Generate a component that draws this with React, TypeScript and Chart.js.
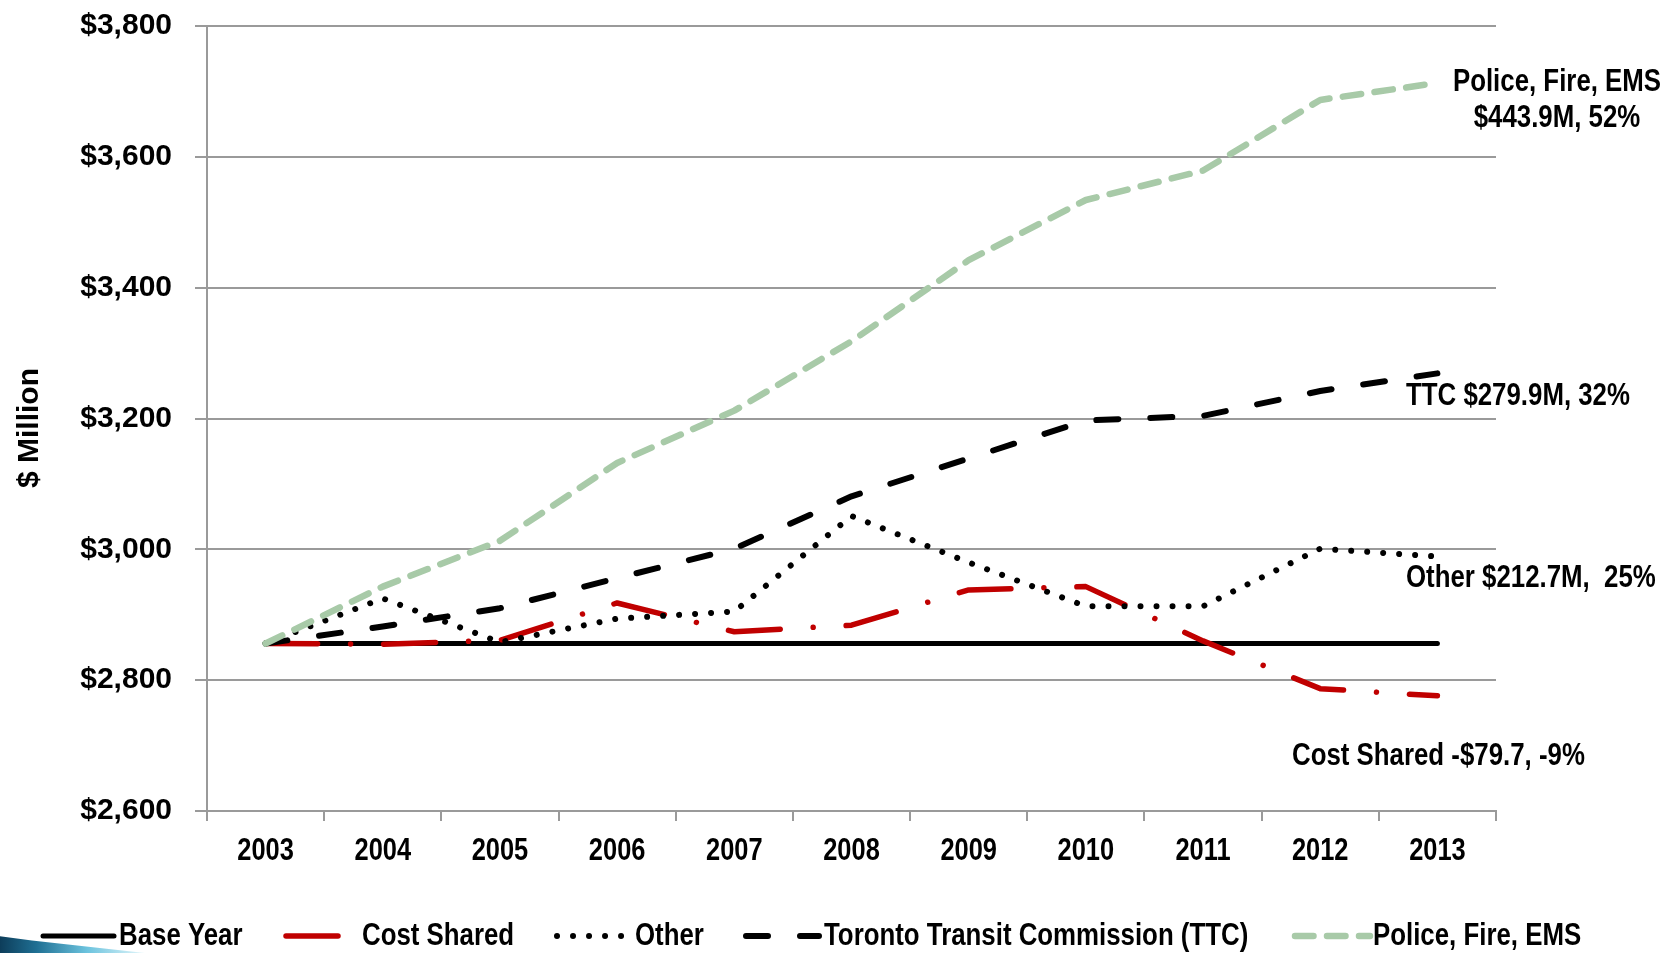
import React, { useEffect, useRef } from "react";
import { Chart, registerables } from "chart.js";

Chart.register(...registerables);

// ---- data -----------------------------------------------------------------
const years = ["2003", "2004", "2005", "2006", "2007", "2008", "2009", "2010", "2011", "2012", "2013"];

const baseYear = [2856, 2856, 2856, 2856, 2856, 2856, 2856, 2856, 2856, 2856, 2856];
const costShared = [2856, 2855, 2861, 2918, 2874, 2884, 2938, 2943, 2860, 2787, 2776];
const other = [2856, 2925, 2858, 2894, 2905, 3051, 2980, 2913, 2913, 3001, 2989];
const ttc = [2856, 2882, 2910, 2956, 3001, 3081, 3139, 3197, 3204, 3242, 3269];
const policeFireEms = [2856, 2943, 3013, 3132, 3212, 3318, 3442, 3534, 3579, 3687, 3713];

const seriesNames = ["Base Year", "Cost Shared", "Other", "Toronto Transit Commission (TTC)", "Police, Fire, EMS"];

const yMin = 2600;
const yMax = 3800;
const yStep = 200;

const axisTitle = "$ Million";

const policeNote = ["Police, Fire, EMS", "$443.9M, 52%"];
const ttcNote = "TTC $279.9M, 32%";
const otherNote = "Other $212.7M,  25%";
const costSharedNote = "Cost Shared -$79.7, -9%";

// ---- styling --------------------------------------------------------------
const SANS = "'Liberation Sans', Arial, sans-serif";
const NARROW_SCALE = 0.82; // horizontal squeeze giving a narrow bold face
const TEXT_SIZE = 31.5;
const GRID = "#9a9a9a";
const RED = "#C00000";
const GREEN = "#A8CAA8";

// legend sample geometry: [lineStart, lineEnd, textX]
const legendSlots: [number, number, number][] = [
  [43, 114, 119],
  [286, 344, 362],
  [557, 631, 635],
  [746, 819, 824],
  [1295, 1370, 1373],
];
const LEGEND_Y = 936;

function narrowText(ctx: CanvasRenderingContext2D, text: string, x: number, y: number, align: CanvasTextAlign, size = TEXT_SIZE) {
  ctx.save();
  ctx.font = `bold ${size}px ${SANS}`;
  ctx.textAlign = align;
  ctx.textBaseline = "middle";
  ctx.fillStyle = "#000";
  ctx.translate(x, y);
  ctx.scale(NARROW_SCALE, 1);
  ctx.fillText(text, 0, 0);
  ctx.restore();
}

const notesPlugin = {
  id: "seriesNotes",
  afterDraw(chart: any) {
    const { ctx } = chart;
    const xs = chart.scales.x;

    // category labels, placed by the category scale
    const labelY = xs.top + 40;
    xs.ticks.forEach((_t: any, i: number) => {
      narrowText(ctx, String(chart.data.labels[i]), xs.getPixelForTick(i), labelY, "center", 31);
    });

    // end-of-series notes
    narrowText(ctx, policeNote[0], 1557, 82, "center");
    narrowText(ctx, policeNote[1], 1557, 118, "center");
    narrowText(ctx, ttcNote, 1406, 396, "left");
    narrowText(ctx, otherNote, 1406, 578, "left");
    narrowText(ctx, costSharedNote, 1292, 756, "left");

    // vertical axis title
    ctx.save();
    ctx.fillStyle = "#000";
    ctx.textBaseline = "middle";
    ctx.translate(30, 428);
    ctx.rotate(-Math.PI / 2);
    ctx.font = `bold 30px ${SANS}`;
    ctx.textAlign = "center";
    ctx.fillText(axisTitle, 0, 0);
    ctx.restore();

    // legend row built from the datasets
    chart.data.datasets.forEach((ds: any, i: number) => {
      const [x0, x1, tx] = legendSlots[i];
      ctx.save();
      ctx.strokeStyle = ds.borderColor;
      ctx.lineWidth = ds.borderWidth;
      ctx.lineCap = "round";
      ctx.setLineDash(ds.borderDash || []);
      ctx.beginPath();
      ctx.moveTo(x0, LEGEND_Y);
      ctx.lineTo(x1, LEGEND_Y);
      ctx.stroke();
      ctx.restore();
      narrowText(ctx, ds.label, tx, LEGEND_Y, "left");
    });
  },
};

export default function App() {
  const canvasRef = useRef<HTMLCanvasElement | null>(null);

  useEffect(() => {
    document.body.style.margin = "0";
    const canvas = canvasRef.current;
    if (!canvas) return;

    const line = (label: string, data: number[], color: string, width: number, dash: number[], order: number) => ({
      label,
      data,
      borderColor: color,
      backgroundColor: color,
      borderWidth: width,
      borderDash: dash,
      borderCapStyle: "round",
      borderJoinStyle: "round",
      pointRadius: 0,
      pointHoverRadius: 0,
      tension: 0,
      fill: false,
      order,
    });

    const chart = new Chart(canvas, {
      type: "line",
      data: {
        labels: years,
        datasets: [
          line(seriesNames[0], baseYear, "#000000", 5, [], 5),
          line(seriesNames[1], costShared, RED, 5.5, [52, 33, 0.01, 33], 4),
          line(seriesNames[2], other, "#000000", 6, [0.01, 16], 3),
          line(seriesNames[3], ttc, "#000000", 6, [22, 32], 2),
          line(seriesNames[4], policeFireEms, GREEN, 6.5, [18.5, 13.5], 1),
        ] as any,
      },
      options: {
        animation: false,
        responsive: false,
        devicePixelRatio: 1,
        layout: { padding: { top: 26, right: 182, left: 0, bottom: 0 } },
        plugins: {
          legend: { display: false },
          tooltip: { enabled: false },
        },
        scales: {
          x: {
            type: "category",
            offset: true,
            grid: {
              offset: true,
              drawOnChartArea: false,
              drawTicks: true,
              tickLength: 10,
              color: GRID,
              lineWidth: 2,
            },
            border: { display: true, color: GRID, width: 2 },
            ticks: {
              display: false,
              autoSkip: false,
              maxRotation: 0,
            },
            afterFit(scale: any) {
              scale.height = 142;
            },
          },
          y: {
            min: yMin,
            max: yMax,
            grid: {
              color: GRID,
              lineWidth: 2,
              tickLength: 12,
              drawTicks: true,
            },
            border: { display: true, color: GRID, width: 2 },
            ticks: {
              stepSize: yStep,
              color: "#000",
              padding: 23,
              font: { family: SANS, size: 30, weight: "bold" },
              callback: (v: any) => "$" + Number(v).toLocaleString("en-US"),
            },
            afterFit(scale: any) {
              scale.width = 207;
              scale.paddingTop = 0;
              scale.paddingBottom = 0;
            },
          },
        },
      } as any,
      plugins: [notesPlugin],
    });

    return () => chart.destroy();
  }, []);

  return (
    <div style={{ position: "fixed", left: 0, top: 0, width: 1678, height: 953, background: "#fff", overflow: "hidden" }}>
      <canvas ref={canvasRef} width={1678} height={953} style={{ display: "block" }} />
      <div
        style={{
          position: "absolute",
          left: 0,
          top: 932,
          width: 145,
          height: 21,
          background: "linear-gradient(90deg, #0d3d5a 0%, #1f6f93 25%, #6cc3de 60%, #e4f7fb 100%)",
          clipPath: "polygon(0% 20%, 22% 40%, 100% 100%, 0% 100%)",
        }}
      />
    </div>
  );
}
